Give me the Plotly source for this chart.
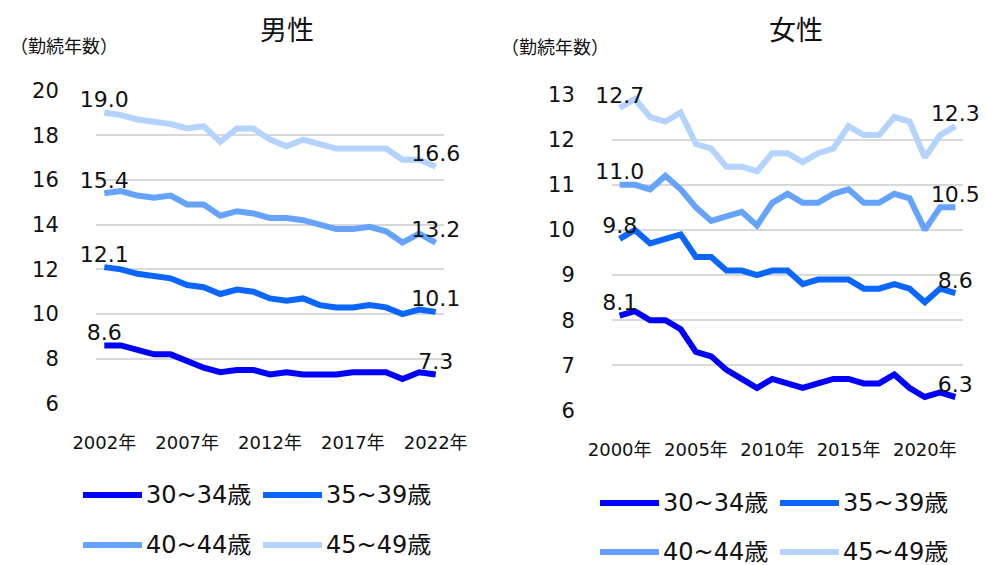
import plotly.graph_objects as go

# page is 987x565; the html body has an 8px margin, so the figure is sized to fit
PAGE_W, PAGE_H = 987, 565
OFF = 8
W, H = PAGE_W - OFF, PAGE_H - OFF

# ---------------- data ----------------
male_years = list(range(2002, 2023))
female_years = list(range(2000, 2023))

age_groups = ["30~34歳", "35~39歳", "40~44歳", "45~49歳"]

male_30_34 = [8.6, 8.6, 8.4, 8.2, 8.2, 7.9, 7.6, 7.4, 7.5, 7.5, 7.3, 7.4, 7.3, 7.3, 7.3, 7.4, 7.4, 7.4, 7.1, 7.4, 7.3]
male_35_39 = [12.1, 12.0, 11.8, 11.7, 11.6, 11.3, 11.2, 10.9, 11.1, 11.0, 10.7, 10.6, 10.7, 10.4, 10.3, 10.3, 10.4, 10.3, 10.0, 10.2, 10.1]
male_40_44 = [15.4, 15.5, 15.3, 15.2, 15.3, 14.9, 14.9, 14.4, 14.6, 14.5, 14.3, 14.3, 14.2, 14.0, 13.8, 13.8, 13.9, 13.7, 13.2, 13.6, 13.2]
male_45_49 = [19.0, 18.9, 18.7, 18.6, 18.5, 18.3, 18.4, 17.7, 18.3, 18.3, 17.8, 17.5, 17.8, 17.6, 17.4, 17.4, 17.4, 17.4, 16.9, 16.9, 16.6]

female_30_34 = [8.1, 8.2, 8.0, 8.0, 7.8, 7.3, 7.2, 6.9, 6.7, 6.5, 6.7, 6.6, 6.5, 6.6, 6.7, 6.7, 6.6, 6.6, 6.8, 6.5, 6.3, 6.4, 6.3]
female_35_39 = [9.8, 10.0, 9.7, 9.8, 9.9, 9.4, 9.4, 9.1, 9.1, 9.0, 9.1, 9.1, 8.8, 8.9, 8.9, 8.9, 8.7, 8.7, 8.8, 8.7, 8.4, 8.7, 8.6]
female_40_44 = [11.0, 11.0, 10.9, 11.2, 10.9, 10.5, 10.2, 10.3, 10.4, 10.1, 10.6, 10.8, 10.6, 10.6, 10.8, 10.9, 10.6, 10.6, 10.8, 10.7, 10.0, 10.5, 10.5]
female_45_49 = [12.7, 12.9, 12.5, 12.4, 12.6, 11.9, 11.8, 11.4, 11.4, 11.3, 11.7, 11.7, 11.5, 11.7, 11.8, 12.3, 12.1, 12.1, 12.5, 12.4, 11.6, 12.1, 12.3]

male_tick_years = [2002, 2007, 2012, 2017, 2022]
female_tick_years = [2000, 2005, 2010, 2015, 2020]
male_tick_labels = [f"{y}年" for y in male_tick_years]
female_tick_labels = [f"{y}年" for y in female_tick_years]

titles = ["男性", "女性"]
unit_label = "（勤続年数）"

colors = ["#0000FF", "#0A66FF", "#66A3FF", "#B5D3FF"]

FONT = "DejaVu Sans, Noto Sans CJK JP, sans-serif"
CJK = "Noto Sans CJK JP, sans-serif"

# ---------------- figure ----------------
fig = go.Figure()


def end_labels(vals):
    return [f"{v:.1f}" if (i == 0 or i == len(vals) - 1) else "" for i, v in enumerate(vals)]


male_series = [male_30_34, male_35_39, male_40_44, male_45_49]
female_series = [female_30_34, female_35_39, female_40_44, female_45_49]

for name, vals, col in zip(age_groups, male_series, colors):
    fig.add_trace(go.Scatter(
        x=male_years, y=vals, mode="lines+text", name=name,
        line=dict(color=col, width=6),
        text=end_labels(vals), textposition="top center",
        textfont=dict(family=FONT, size=22, color="#111111"),
        cliponaxis=False, showlegend=False,
        xaxis="x", yaxis="y"))

for name, vals, col in zip(age_groups, female_series, colors):
    fig.add_trace(go.Scatter(
        x=female_years, y=vals, mode="lines+text", name=name,
        line=dict(color=col, width=6),
        text=end_labels(vals), textposition="top center",
        textfont=dict(family=FONT, size=22, color="#111111"),
        cliponaxis=False, showlegend=False,
        xaxis="x2", yaxis="y2"))


def px_x(p):
    return (p - OFF) / W


def px_y(p):
    return 1 - (p - OFF) / H


grid = "#D9D9D9"
xcommon = dict(showgrid=False, zeroline=False, showline=False, automargin=False,
               ticks="outside", ticklen=22, tickcolor="rgba(0,0,0,0)",
               tickfont=dict(family=FONT, size=18, color="#111111"))
ycommon = dict(showgrid=True, gridcolor=grid, gridwidth=1.5, zeroline=False, showline=False,
               automargin=False,
               ticks="outside", ticklen=32, tickcolor="rgba(0,0,0,0)",
               tickfont=dict(family=FONT, size=21, color="#111111"))

fig.update_layout(
    width=W, height=H, autosize=False,
    margin=dict(l=0, r=0, t=0, b=0),
    paper_bgcolor="white", plot_bgcolor="white",
    showlegend=False,
    xaxis=dict(domain=[px_x(96), px_x(444)], range=[male_years[0] - 0.5, male_years[-1] + 0.5],
               tickvals=male_tick_years, ticktext=male_tick_labels, anchor="y", **xcommon),
    yaxis=dict(domain=[px_y(404), px_y(90)], range=[5.98, 20.02], tick0=6, dtick=2,
               anchor="x", **ycommon),
    xaxis2=dict(domain=[px_x(612), px_x(963)], range=[female_years[0] - 0.5, female_years[-1] + 0.5],
                tickvals=female_tick_years, ticktext=female_tick_labels, anchor="y2", **xcommon),
    yaxis2=dict(domain=[px_y(411), px_y(94)], range=[5.99, 13.01], tick0=6, dtick=1,
                anchor="x2", **ycommon),
)

annotations = [
    dict(text=titles[0], x=px_x(287), y=px_y(28), xref="paper", yref="paper",
         showarrow=False, font=dict(family=CJK, size=27, color="#111111"),
         xanchor="center", yanchor="middle"),
    dict(text=titles[1], x=px_x(796), y=px_y(28), xref="paper", yref="paper",
         showarrow=False, font=dict(family=CJK, size=27, color="#111111"),
         xanchor="center", yanchor="middle"),
    dict(text=unit_label, x=px_x(8), y=px_y(45), xref="paper", yref="paper",
         showarrow=False, font=dict(family=CJK, size=18, color="#111111"),
         xanchor="left", yanchor="middle"),
    dict(text=unit_label, x=px_x(499), y=px_y(46), xref="paper", yref="paper",
         showarrow=False, font=dict(family=CJK, size=18, color="#111111"),
         xanchor="left", yanchor="middle"),
]

shapes = []
legend_specs = [
    dict(x0=83, col=180, rows=[495, 545]),
    dict(x0=600, col=180, rows=[503, 552]),
]
for spec in legend_specs:
    for i, (name, col) in enumerate(zip(age_groups, colors)):
        r, c = divmod(i, 2)
        lx = spec["x0"] + c * spec["col"]
        ly = spec["rows"][r]
        shapes.append(dict(type="line", xref="paper", yref="paper",
                           x0=px_x(lx), x1=px_x(lx + 59), y0=px_y(ly), y1=px_y(ly),
                           line=dict(color=col, width=6)))
        annotations.append(dict(text=name, x=px_x(lx + 61), y=px_y(ly), xref="paper", yref="paper",
                                showarrow=False, xanchor="left", yanchor="middle",
                                height=22, valign="middle",
                                font=dict(family=FONT, size=24, color="#111111")))

fig.update_layout(annotations=annotations, shapes=shapes)

fig.write_html("out.html")
